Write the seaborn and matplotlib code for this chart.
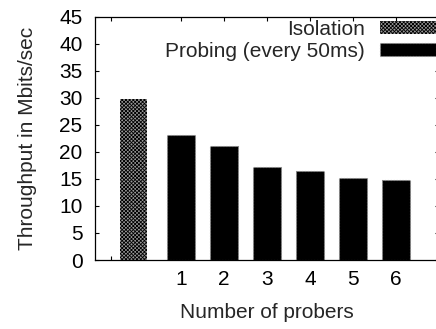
import matplotlib
matplotlib.use("Agg")
import matplotlib.pyplot as plt
from matplotlib.patches import Patch
import seaborn as sns
import pandas as pd

# Throughput measurements (Mbits/sec)
isolation_label = "Isolation"
probing_label = "Probing (every 50ms)"
isolation_value = [29.8]
probers = [1, 2, 3, 4, 5, 6]
probing_values = [23.1, 21.1, 17.1, 16.5, 15.1, 14.8]
y_ticks = [0, 5, 10, 15, 20, 25, 30, 35, 40, 45]

sns.set_theme(style="ticks")
plt.rcParams["font.family"] = ["Liberation Sans", "DejaVu Sans"]
plt.rcParams["hatch.linewidth"] = 0.6

FS = 15
ISO_HATCH = "xxxxxxxxx"
fig = plt.figure(figsize=(4.36, 3.29), dpi=100)
W, H = 436, 329
ax = fig.add_axes([95 / W, (H - 260) / H, (439 - 95) / W, (260 - 16.5) / H])

bar_w = 0.63
iso_pos = -0.1
iso_df = pd.DataFrame({"x": [iso_pos], "y": isolation_value})
prb_df = pd.DataFrame({"x": probers, "y": probing_values})

sns.barplot(data=iso_df, x="x", y="y", native_scale=True, width=bar_w,
            color="#9a9a9a", edgecolor="black", linewidth=0, hatch=ISO_HATCH,
            ax=ax, errorbar=None)
sns.barplot(data=prb_df, x="x", y="y", native_scale=True, width=bar_w,
            color="black", edgecolor="#888888", linewidth=0.8,
            linestyle=":", ax=ax, errorbar=None)
for p in ax.patches:
    p.set_alpha(None)

ax.set_xlim(-1, 7)
ax.set_ylim(0, 45)
ax.set_xticks([-0.62] + probers)
ax.set_xticklabels([""] + [str(p) for p in probers])
ax.set_yticks(y_ticks)
ax.set_yticklabels([str(t) for t in y_ticks])
ax.tick_params(direction="in", length=3, width=0.8, top=True, right=True,
               labelsize=FS, colors="black")
ax.tick_params(axis="x", pad=7)
ax.tick_params(axis="y", pad=9)
for s in ax.spines.values():
    s.set_visible(True)
    s.set_color("black")
    s.set_linewidth(0.9)

ax.set_xlabel("Number of probers", fontsize=FS, labelpad=10)
ax.set_ylabel("Throughput in Mbits/sec", fontsize=FS, labelpad=16)

handles = [
    Patch(facecolor="#9a9a9a", edgecolor="black", linewidth=0, hatch=ISO_HATCH),
    Patch(facecolor="black", edgecolor="#888888", linewidth=0.8, linestyle=":"),
]
ax.legend(handles, [isolation_label, probing_label], loc="upper right",
          bbox_to_anchor=(436 / W, (H - 20) / H), bbox_transform=fig.transFigure,
          frameon=False, markerfirst=False, fontsize=FS, borderpad=0,
          borderaxespad=0, handlelength=2.7, handleheight=0.55,
          handletextpad=0.7, labelspacing=0.15)

fig.savefig("out.png", dpi=100)
